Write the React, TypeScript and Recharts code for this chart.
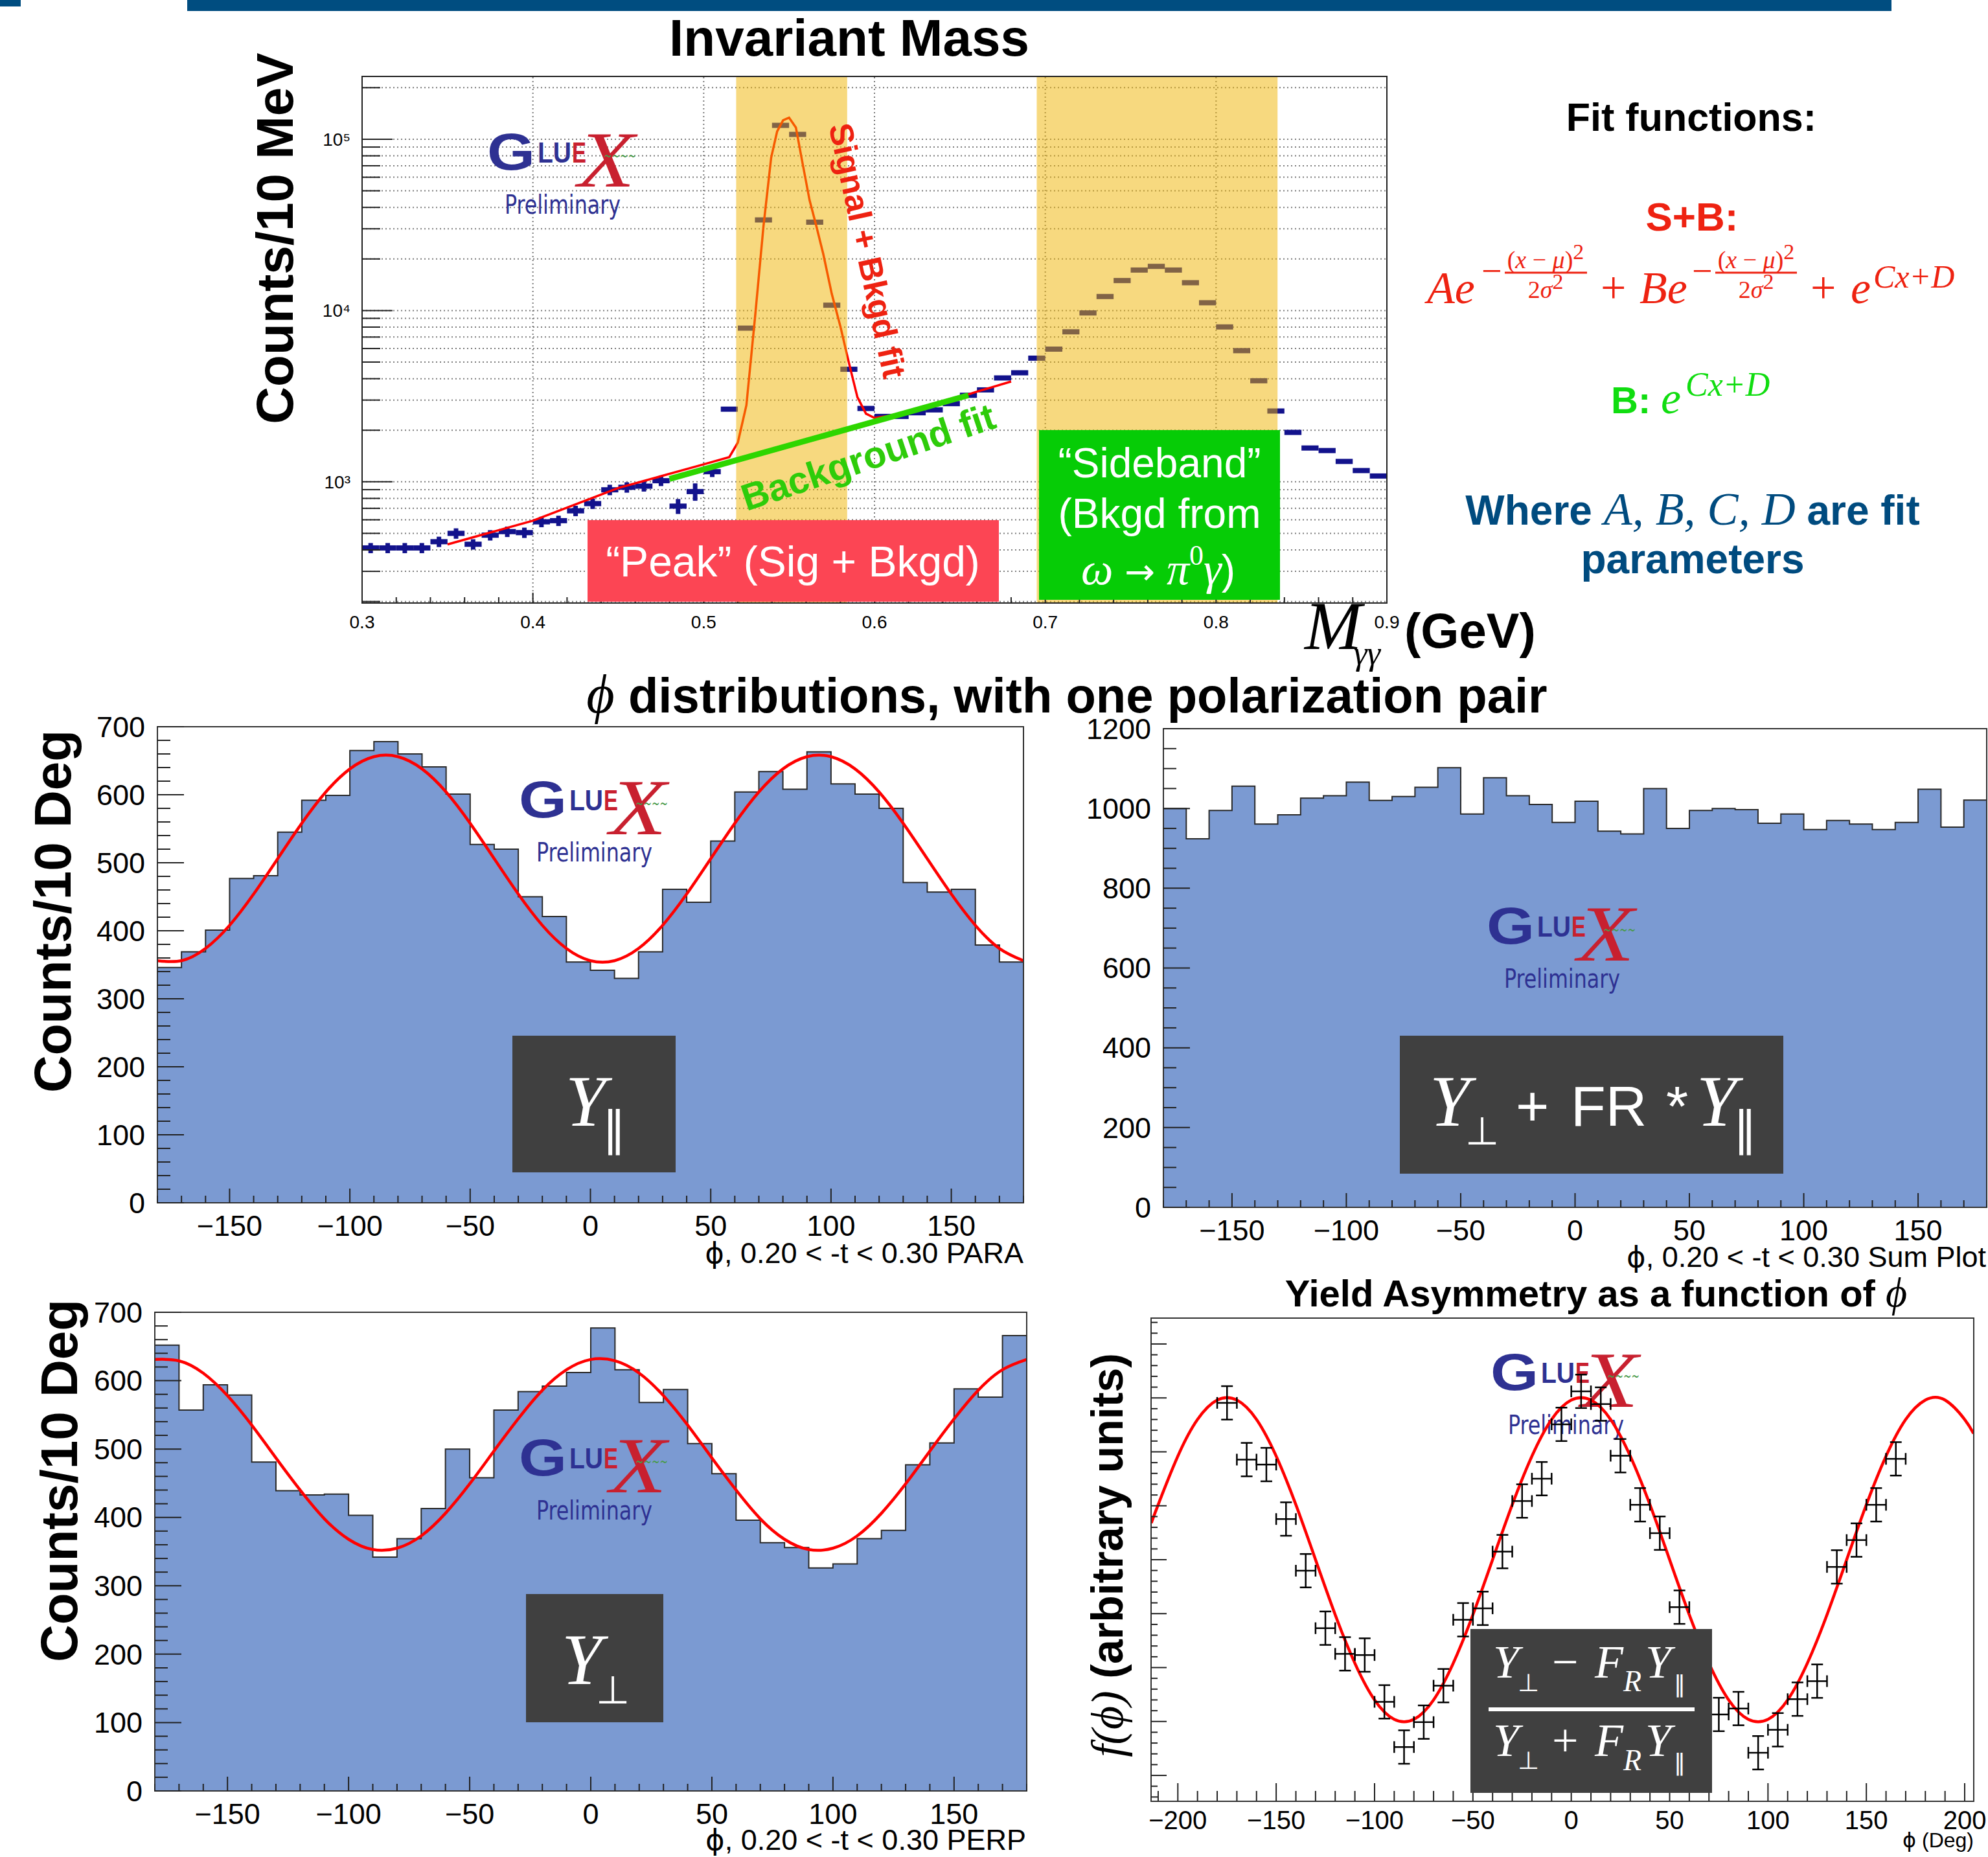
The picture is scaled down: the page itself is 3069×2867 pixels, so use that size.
import React from 'react';
import {
  ComposedChart,
  Area,
  Line,
  Scatter,
  XAxis,
  YAxis,
  ReferenceLine,
  ReferenceArea,
  ErrorBar,
} from 'recharts';

const W = 3069;
const H = 2867;
const SANS = '"Liberation Sans", Arial, Helvetica, sans-serif';
const SERIF = '"Liberation Serif", "DejaVu Serif", "Times New Roman", serif';
const SYM = '"DejaVu Sans", sans-serif';
const NARROW = '"Liberation Sans Narrow", "DejaVu Sans Condensed", "Liberation Sans", sans-serif';
const NAVY = '#12128c';
const RED = '#ee2211';
const HIST_BLUE = '#7b9ad2';

// ---------- invariant mass, counts / 10 MeV ----------
const massBinCenters = [
  0.305, 0.315, 0.325, 0.335, 0.345, 0.355, 0.365, 0.375, 0.385, 0.395,
  0.405, 0.415, 0.425, 0.435, 0.445, 0.455, 0.465, 0.475, 0.485, 0.495,
  0.505, 0.515, 0.525, 0.535, 0.545, 0.555, 0.565, 0.575, 0.585, 0.595,
  0.605, 0.615, 0.625, 0.635, 0.645, 0.655, 0.665, 0.675, 0.685, 0.695,
  0.705, 0.715, 0.725, 0.735, 0.745, 0.755, 0.765, 0.775, 0.785, 0.795,
  0.805, 0.815, 0.825, 0.835, 0.845, 0.855, 0.865, 0.875, 0.885, 0.895,
];
const massCounts = [
  411, 411, 411, 411, 447, 500, 432, 488, 512, 505,
  584, 593, 677, 746, 898, 929, 943, 1015, 721, 877,
  1146, 2655, 7890, 33800, 120500, 106700, 32800, 10740, 4540, 2680,
  2408, 2408, 2530, 2630, 2860, 3200, 3440, 4040, 4330, 5270,
  5950, 7510, 9680, 12070, 14960, 17230, 18100, 17230, 14530, 11100,
  8020, 5830, 3890, 2590, 1943, 1575, 1522, 1315, 1163, 1081,
];
const massErrors = [
  28, 28, 28, 28, 31, 35, 30, 34, 36, 35,
  41, 41, 47, 52, 63, 65, 66, 71, 72, 102,
  80, 0, 0, 0, 0, 0, 0, 0, 0, 0,
  0, 0, 0, 0, 0, 0, 0, 0, 0, 0,
  0, 0, 0, 0, 0, 0, 0, 0, 0, 0,
  0, 0, 0, 0, 0, 0, 0, 0, 0, 0,
];
const massBinHalfWidth = 0.005;
const sbFitMass = [
  0.35, 0.4, 0.45, 0.5, 0.515, 0.52, 0.525, 0.53, 0.535, 0.5395, 0.543, 0.5465,
  0.55, 0.554, 0.5577, 0.562, 0.566, 0.57, 0.575, 0.58, 0.585, 0.59, 0.595, 0.6,
  0.61, 0.62, 0.64, 0.66, 0.68,
];
const sbFitCounts = [
  431, 593, 920, 1264, 1394, 1695, 2800, 9000, 31000, 78000, 111000, 129000,
  133500, 117000, 74000, 44000, 31000, 21400, 12500, 8100, 4960, 3120, 2500, 2360,
  2440, 2560, 2900, 3360, 3850,
];
const bkgFitMass = [0.48, 0.655];
const bkgFitCounts = [1040, 3200];
const peakWindow = [0.519, 0.584];
const sidebandWindow = [0.695, 0.836];
const massDomain = [0.3, 0.9];
const countDomain = [196, 232600];
const massGridX = [0.4, 0.5, 0.6, 0.7, 0.8];
const massLogTicks = [
  200, 300, 400, 500, 600, 700, 800, 900,
  1000, 2000, 3000, 4000, 5000, 6000, 7000, 8000, 9000,
  10000, 20000, 30000, 40000, 50000, 60000, 70000, 80000, 90000,
  100000, 200000,
];

// ---------- phi distributions, counts / 10 deg ----------
const phiBinEdges = [
  -180, -170, -160, -150, -140, -130, -120, -110, -100, -90, -80, -70,
  -60, -50, -40, -30, -20, -10, 0, 10, 20, 30, 40, 50,
  60, 70, 80, 90, 100, 110, 120, 130, 140, 150, 160, 170,
];
const paraCounts = [
  346, 369, 401, 477, 481, 545, 592, 599, 665, 678, 660, 641,
  601, 527, 520, 450, 421, 354, 342, 330, 369, 461, 442, 532,
  604, 634, 608, 663, 616, 601, 580, 471, 457, 461, 379, 354,
];
const sumCounts = [
  1000, 924, 995, 1056, 961, 984, 1026, 1032, 1066, 1020, 1030, 1053,
  1102, 986, 1077, 1032, 1010, 965, 1018, 943, 936, 1050, 950, 995,
  1000, 997, 963, 986, 947, 970, 961, 947, 965, 1048, 953, 1021,
];
const perpCounts = [
  652, 557, 594, 579, 481, 439, 433, 434, 403, 342, 369, 413,
  500, 458, 557, 584, 592, 612, 677, 616, 568, 587, 508, 464,
  396, 363, 356, 326, 332, 369, 381, 477, 509, 588, 576, 666,
];
const fitPhi = [
  -180, -170, -160, -150, -140, -130, -120, -110, -100, -90, -80, -70, -60,
  -50, -40, -30, -20, -10, 0, 10, 20, 30, 40, 50, 60, 70, 80, 90, 100,
  110, 120, 130, 140, 150, 160, 170, 180,
];
const paraFit = [
  356, 356, 374, 408, 454, 506, 558, 604, 638, 656, 656, 638, 604,
  558, 506, 454, 408, 374, 356, 356, 374, 408, 454, 506, 558, 604, 638, 656, 656,
  638, 604, 558, 506, 454, 408, 374, 356,
];
const perpFit = [
  631, 629, 611, 578, 535, 487, 440, 398, 368, 353, 355, 373, 406,
  449, 497, 544, 586, 616, 631, 629, 611, 578, 535, 487, 440, 398, 368, 353, 355,
  373, 406, 449, 497, 544, 586, 616, 631,
];

// ---------- yield asymmetry ----------
const asymPhi = [
  -175, -165, -155, -145, -135, -125, -115, -105, -95, -85, -75, -65,
  -55, -45, -35, -25, -15, -5, 5, 15, 25, 35, 45, 55,
  65, 75, 85, 95, 105, 115, 125, 135, 145, 155, 165,
];
const asymValues = [
  0.1454, 0.0928, 0.0882, 0.0377, -0.0102, -0.0635, -0.0873, -0.0884, -0.1318, -0.1737, -0.1506, -0.1168,
  -0.0557, -0.0451, 0.0075, 0.0544, 0.0751, 0.1255, 0.1561, 0.1443, 0.0964, 0.0509, 0.0246, -0.044,
  -0.1, -0.1435, -0.138, -0.179, -0.1577, -0.1293, -0.1126, -0.0067, 0.0182, 0.0509, 0.0935,
];
const asymErrors = [
  0.0155, 0.0155, 0.0155, 0.0155, 0.0155, 0.0155, 0.0155, 0.0155, 0.0155, 0.0155, 0.0155, 0.0155,
  0.0155, 0.0155, 0.0155, 0.0155, 0.0155, 0.0155, 0.0155, 0.0155, 0.0155, 0.0155, 0.0155, 0.0155,
  0.0155, 0.0155, 0.0155, 0.0155, 0.0155, 0.0155, 0.0155, 0.0155, 0.0155, 0.0155, 0.0155,
];
const asymBinHalfWidth = 5;
const asymFitPhi = [
  -213.5, -210, -200, -190, -180, -170, -160, -150, -140, -130, -120, -110, -100, -90, -80,
  -70, -60, -50, -40, -30, -20, -10, 0, 10, 20, 30, 40, 50, 60, 70, 80, 90, 100, 110,
  120, 130, 140, 150, 160, 170, 180, 190, 200, 204.5,
];
const asymFit = [
  0.034, 0.051, 0.096, 0.13, 0.148, 0.148, 0.13, 0.096, 0.051, 0, -0.051, -0.096, -0.13, -0.148, -0.148,
  -0.13, -0.096, -0.051, 0, 0.051, 0.096, 0.13, 0.148, 0.148, 0.13, 0.096, 0.051, 0, -0.051, -0.096, -0.13, -0.148, -0.148, -0.13,
  -0.096, -0.051, 0, 0.051, 0.096, 0.13, 0.148, 0.148, 0.13, 0.117,
];
const asymDomainX = [-213.6, 204.6];
const asymDomainY = [-0.224, 0.224];

// ---------- helpers ----------
const steps = (a: number, b: number, d: number) => {
  const out: number[] = [];
  const n = Math.round((b - a) / d);
  for (let i = 0; i <= n; i++) out.push(+(a + i * d).toFixed(6));
  return out;
};
const isMultiple = (v: number, step: number) => Math.abs(v / step - Math.round(v / step)) < 1e-6;
const fmtInt = (v: number) => (v < 0 ? '\u2212' + Math.abs(v) : String(v));
const isPow10 = (v: number) => Math.abs(Math.log10(v) - Math.round(Math.log10(v))) < 1e-9;

type Frame = { x: number; y: number; w: number; h: number };
type Pad = { l: number; r: number; t: number; b: number };
const box = (f: Frame, p: Pad) => ({
  left: f.x - p.l,
  top: f.y - p.t,
  width: f.w + p.l + p.r,
  height: f.h + p.t + p.b,
});

type TickStyle = {
  isMajor: (v: number) => boolean;
  majorLen: number;
  minorLen: number;
  fontSize: number;
  gap: number;
  labels: boolean;
  fmt?: (v: number) => React.ReactNode;
};

function BottomTick(props: any) {
  const { x, y, payload, s } = props;
  const v = payload.value;
  const major = s.isMajor(v);
  return (
    <g>
      <line x1={x} x2={x} y1={y} y2={y - (major ? s.majorLen : s.minorLen)} stroke="#222" strokeWidth={2} />
      {major && s.labels && (
        <text x={x} y={y + s.gap} textAnchor="middle" fontSize={s.fontSize} fontFamily={SANS} fill="#000">
          {s.fmt ? s.fmt(v) : fmtInt(v)}
        </text>
      )}
    </g>
  );
}

function LeftTick(props: any) {
  const { x, y, payload, s } = props;
  const v = payload.value;
  const major = s.isMajor(v);
  return (
    <g>
      <line x1={x} x2={x + (major ? s.majorLen : s.minorLen)} y1={y} y2={y} stroke="#222" strokeWidth={2} />
      {major && s.labels && (
        <text x={x - s.gap} y={y + s.fontSize * 0.35} textAnchor="end" fontSize={s.fontSize} fontFamily={SANS} fill="#000">
          {s.fmt ? s.fmt(v) : fmtInt(v)}
        </text>
      )}
    </g>
  );
}

const NoMark = () => <g />;

// ---------- panels ----------
const massFrame = { x: 559, y: 118, w: 1582, h: 813 };
const massPad = { l: 100, r: 40, t: 10, b: 60 };
const massXStyle: TickStyle = {
  isMajor: (v) => isMultiple(v, 0.1), majorLen: 16, minorLen: 9, fontSize: 28, gap: 39, labels: true,
  fmt: (v) => v.toFixed(1),
};
const massYStyle: TickStyle = {
  isMajor: isPow10, majorLen: 47, minorLen: 28, fontSize: 28, gap: 18, labels: true,
  fmt: (v) => '10' + ['⁰', '¹', '²', '³', '⁴', '⁵', '⁶'][Math.round(Math.log10(v))],
};

function MassPanel() {
  const b = box(massFrame, massPad);
  const points = massBinCenters.map((x, i) => ({ x, y: massCounts[i], ex: massBinHalfWidth, ey: massErrors[i] }));
  const sb = sbFitMass.map((x, i) => ({ x, y: sbFitCounts[i] }));
  const bk = bkgFitMass.map((x, i) => ({ x, y: bkgFitCounts[i] }));
  return (
    <div style={{ position: 'absolute', left: b.left, top: b.top, zIndex: 1 }}>
      <ComposedChart width={b.width} height={b.height} margin={{ top: massPad.t, right: massPad.r, bottom: 0, left: 0 }}>
        <XAxis type="number" dataKey="x" domain={massDomain} allowDataOverflow ticks={steps(0.3, 0.9, 0.02)}
          interval={0} tickSize={0} tickMargin={0} tickLine={false} axisLine={false} height={massPad.b}
          tick={(p: any) => <BottomTick {...p} s={massXStyle} />} />
        <YAxis type="number" dataKey="y" scale="log" domain={countDomain} allowDataOverflow ticks={massLogTicks}
          interval={0} tickSize={0} tickMargin={0} tickLine={false} axisLine={false} width={massPad.l}
          tick={(p: any) => <LeftTick {...p} s={massYStyle} />} />
        {massLogTicks.map((v) => (
          <ReferenceLine key={'h' + v} y={v} stroke="#7c7c7c" strokeDasharray="2 4" strokeWidth={2} zIndex={1} />
        ))}
        {massGridX.map((v) => (
          <ReferenceLine key={'v' + v} x={v} stroke="#7c7c7c" strokeDasharray="2 4" strokeWidth={2} zIndex={1} />
        ))}
        <Scatter data={points} shape={<NoMark />} isAnimationActive={false} zIndex={5}>
          <ErrorBar dataKey="ex" direction="x" width={0} stroke={NAVY} strokeWidth={8} isAnimationActive={false} zIndex={5} />
          <ErrorBar dataKey="ey" direction="y" width={0} stroke={NAVY} strokeWidth={7} isAnimationActive={false} zIndex={5} />
        </Scatter>
        <Line data={sb} dataKey="y" type="linear" stroke="#ff0000" strokeWidth={3.5} dot={false} isAnimationActive={false} zIndex={6} />
        <ReferenceArea x1={peakWindow[0]} x2={peakWindow[1]} y1={countDomain[0]} y2={countDomain[1]}
          fill="#f0b400" fillOpacity={0.5} stroke="none" zIndex={7} />
        <ReferenceArea x1={sidebandWindow[0]} x2={sidebandWindow[1]} y1={countDomain[0]} y2={countDomain[1]}
          fill="#f0b400" fillOpacity={0.5} stroke="none" zIndex={7} />
        <Line data={bk} dataKey="y" type="linear" stroke="#2ed600" strokeWidth={9} dot={false} isAnimationActive={false} zIndex={8} />
        <ReferenceArea x1={massDomain[0]} x2={massDomain[1]} y1={countDomain[0]} y2={countDomain[1]}
          fill="none" fillOpacity={0} stroke="#222" strokeWidth={2} zIndex={9} />
      </ComposedChart>
    </div>
  );
}

const phiXStyle: TickStyle = { isMajor: (v) => isMultiple(v, 50), majorLen: 22, minorLen: 11, fontSize: 45, gap: 51, labels: true };

function HistPanel({ frame, pad, counts, fit, yMax, yTickStep, yMajor }: any) {
  const b = box(frame, pad);
  const hist = phiBinEdges.map((x, i) => ({ x, y: counts[i] }));
  hist.push({ x: 180, y: counts[counts.length - 1] });
  const fitData = fit ? fitPhi.map((x, i) => ({ x, y: fit[i] })) : null;
  const yStyle: TickStyle = {
    isMajor: (v) => isMultiple(v, yMajor), majorLen: 41, minorLen: 20, fontSize: 45, gap: 19, labels: true,
  };
  return (
    <div style={{ position: 'absolute', left: b.left, top: b.top, zIndex: 1 }}>
      <ComposedChart width={b.width} height={b.height} data={hist} margin={{ top: pad.t, right: pad.r, bottom: 0, left: 0 }}>
        <XAxis type="number" dataKey="x" domain={[-180, 180]} allowDataOverflow ticks={steps(-180, 180, 10)}
          interval={0} tickSize={0} tickMargin={0} tickLine={false} axisLine={false} height={pad.b}
          tick={(p: any) => <BottomTick {...p} s={phiXStyle} />} />
        <YAxis type="number" dataKey="y" domain={[0, yMax]} allowDataOverflow ticks={steps(0, yMax, yTickStep)}
          interval={0} tickSize={0} tickMargin={0} tickLine={false} axisLine={false} width={pad.l}
          tick={(p: any) => <LeftTick {...p} s={yStyle} />} />
        <Area dataKey="y" type="stepAfter" fill={HIST_BLUE} fillOpacity={1} stroke="#2a2a2a" strokeWidth={2}
          baseValue={0} isAnimationActive={false} zIndex={3} />
        {fitData && (
          <Line data={fitData} dataKey="y" type="natural" stroke="#ff0000" strokeWidth={4.5} dot={false}
            isAnimationActive={false} zIndex={4} />
        )}
        <ReferenceArea x1={-180} x2={180} y1={0} y2={yMax} fill="none" fillOpacity={0} stroke="#333" strokeWidth={2} zIndex={9} />
      </ComposedChart>
    </div>
  );
}

const asymFrame = { x: 1777, y: 2035, w: 1270, h: 746 };
const asymPad = { l: 20, r: 22, t: 10, b: 60 };
const asymXStyle: TickStyle = { isMajor: (v) => isMultiple(v, 50), majorLen: 28, minorLen: 16, fontSize: 40, gap: 43, labels: true };
const asymYStyle: TickStyle = { isMajor: (v) => isMultiple(v, 0.05), majorLen: 24, minorLen: 10, fontSize: 40, gap: 10, labels: false };

function AsymPanel() {
  const b = box(asymFrame, asymPad);
  const pts = asymPhi.map((x, i) => ({ x, y: asymValues[i], ex: asymBinHalfWidth, ey: asymErrors[i] }));
  const fit = asymFitPhi.map((x, i) => ({ x, y: asymFit[i] }));
  return (
    <div style={{ position: 'absolute', left: b.left, top: b.top, zIndex: 1 }}>
      <ComposedChart width={b.width} height={b.height} margin={{ top: asymPad.t, right: asymPad.r, bottom: 0, left: 0 }}>
        <XAxis type="number" dataKey="x" domain={asymDomainX} allowDataOverflow ticks={steps(-210, 200, 10)}
          interval={0} tickSize={0} tickMargin={0} tickLine={false} axisLine={false} height={asymPad.b}
          tick={(p: any) => <BottomTick {...p} s={asymXStyle} />} />
        <YAxis type="number" dataKey="y" domain={asymDomainY} allowDataOverflow ticks={steps(-0.22, 0.22, 0.01)}
          interval={0} tickSize={0} tickMargin={0} tickLine={false} axisLine={false} width={asymPad.l}
          tick={(p: any) => <LeftTick {...p} s={asymYStyle} />} />
        <Line data={fit} dataKey="y" type="natural" stroke="#ff0000" strokeWidth={4.5} dot={false} isAnimationActive={false} zIndex={4} />
        <Scatter data={pts} shape={<NoMark />} isAnimationActive={false} zIndex={5}>
          <ErrorBar dataKey="ex" direction="x" width={9} stroke="#000" strokeWidth={2.5} isAnimationActive={false} zIndex={5} />
          <ErrorBar dataKey="ey" direction="y" width={9} stroke="#000" strokeWidth={2.5} isAnimationActive={false} zIndex={5} />
        </Scatter>
        <ReferenceArea x1={asymDomainX[0]} x2={asymDomainX[1]} y1={asymDomainY[0]} y2={asymDomainY[1]}
          fill="none" fillOpacity={0} stroke="#333" strokeWidth={2} zIndex={9} />
      </ComposedChart>
    </div>
  );
}

// ---------- decorations ----------
function GlueXLogo({ x, y }: { x: number; y: number }) {
  const navy = '#2e3192';
  const red = '#c8202f';
  return (
    <g>
      <text x={x} y={y + 61} fontFamily={SANS} fontWeight="bold" fontSize={80} fill={navy} textLength={74} lengthAdjust="spacingAndGlyphs">G</text>
      <text x={x + 78} y={y + 50} fontFamily={SANS} fontWeight="bold" fontSize={44} fill={navy} textLength={52} lengthAdjust="spacingAndGlyphs">LU</text>
      <text x={x + 131} y={y + 50} fontFamily={SANS} fontWeight="bold" fontSize={44} fill={red} textLength={22} lengthAdjust="spacingAndGlyphs">E</text>
      <text x={x + 140} y={y + 87} fontFamily={SERIF} fontStyle="italic" fontSize={122} fill={red} textLength={88} lengthAdjust="spacingAndGlyphs">X</text>
      <text x={x + 180} y={y + 48} fontFamily={SYM} fontSize={24} fill="#4a9a4a" textLength={50} lengthAdjust="spacingAndGlyphs">~~~~</text>
      <text x={x + 27} y={y + 129} fontFamily={NARROW} fontSize={40} fill={navy} textLength={179} lengthAdjust="spacingAndGlyphs">Preliminary</text>
    </g>
  );
}

function DarkBox({ x, y, w, h, children }: any) {
  return (
    <g>
      <rect x={x} y={y} width={w} height={h} fill="#404040" />
      {children}
    </g>
  );
}

const it = { fontFamily: SERIF, fontStyle: 'italic' as const };

function Overlay() {
  return (
    <svg width={W} height={H} style={{ position: 'absolute', left: 0, top: 0, zIndex: 2, pointerEvents: 'none' }}>
      <rect x={0} y={0} width={32} height={10} fill="#004d80" />
      <rect x={289} y={0} width={2631} height={17} fill="#004d80" />

      {/* invariant mass */}
      <text x={1311} y={86} textAnchor="middle" fontFamily={SANS} fontWeight="bold" fontSize={80}>Invariant Mass</text>
      <text transform="translate(452,368) rotate(-90)" textAnchor="middle" fontFamily={SANS} fontWeight="bold" fontSize={80}>Counts/10 MeV</text>
      <text x={2014} y={1002} {...it} fontSize={106}>M</text>
      <text x={2090} y={1026} {...it} fontSize={52}>γγ</text>
      <text x={2168} y={1000} fontFamily={SANS} fontWeight="bold" fontSize={76}>(GeV)</text>
      <GlueXLogo x={752} y={201} />
      <text transform="translate(1339,387) rotate(77.7)" textAnchor="middle" dominantBaseline="central"
        fontFamily={SANS} fontWeight="bold" fontSize={51} fill={RED}>Signal + Bkgd fit</text>
      <text transform="translate(1340,705) rotate(-18.5)" textAnchor="middle" dominantBaseline="central"
        fontFamily={SANS} fontWeight="bold" fontSize={58} fill="#2ecc0a">Background fit</text>
      <rect x={907} y={803} width={635} height={126} fill="#fc4554" />
      <text x={1224} y={890} textAnchor="middle" fontFamily={SANS} fontSize={66} fill="#fff">“Peak” (Sig + Bkgd)</text>
      <rect x={1604} y={664} width={372} height={262} fill="#06cc06" />
      <g fill="#fff" fontFamily={SANS} fontSize={64} textAnchor="middle">
        <text x={1790} y={737}>“Sideband”</text>
        <text x={1790} y={815}>(Bkgd from</text>
        <text x={1788} y={902}>
          <tspan {...it} fontSize={70}>ω</tspan>
          <tspan fontFamily={SYM} fontSize={56}> → </tspan>
          <tspan {...it} fontSize={70}>π</tspan>
          <tspan fontFamily={SERIF} fontSize={44} dy={-30}>0</tspan>
          <tspan {...it} fontSize={70} dy={30}>γ</tspan>
          <tspan fontSize={64}>)</tspan>
        </text>
      </g>

      {/* fit functions */}
      <text x={2611} y={202} textAnchor="middle" fontFamily={SANS} fontWeight="bold" fontSize={61}>Fit functions:</text>
      <text x={2612} y={356} textAnchor="middle" fontFamily={SANS} fontWeight="bold" fontSize={62} fill={RED}>S+B:</text>
      <g fill={RED} fontFamily={SERIF}>
        <text x={2203} y={468} {...it} fontSize={70}>Ae</text>
        <text x={2287} y={437} fontSize={56}>−</text>
        <text x={2386} y={414} textAnchor="middle" fontSize={38}>
          (<tspan fontStyle="italic">x</tspan> − <tspan fontStyle="italic">μ</tspan>)<tspan dy={-14} fontSize={34}>2</tspan>
        </text>
        <line x1={2323} x2={2450} y1={421} y2={421} stroke={RED} strokeWidth={3} />
        <text x={2386} y={460} textAnchor="middle" fontSize={38}>
          2<tspan fontStyle="italic">σ</tspan><tspan dy={-14} fontSize={34}>2</tspan>
        </text>
        <text x={2471} y={468} fontSize={70}>+</text>
        <text x={2531} y={468} {...it} fontSize={70}>Be</text>
        <text x={2612} y={437} fontSize={56}>−</text>
        <text x={2711} y={414} textAnchor="middle" fontSize={38}>
          (<tspan fontStyle="italic">x</tspan> − <tspan fontStyle="italic">μ</tspan>)<tspan dy={-14} fontSize={34}>2</tspan>
        </text>
        <line x1={2648} x2={2774} y1={421} y2={421} stroke={RED} strokeWidth={3} />
        <text x={2711} y={460} textAnchor="middle" fontSize={38}>
          2<tspan fontStyle="italic">σ</tspan><tspan dy={-14} fontSize={34}>2</tspan>
        </text>
        <text x={2795} y={468} fontSize={70}>+</text>
        <text x={2857} y={468} {...it} fontSize={70}>e</text>
        <text x={2892} y={444} {...it} fontSize={50}>Cx+D</text>
      </g>
      <g fill="#10dd10">
        <text x={2487} y={638} fontFamily={SANS} fontWeight="bold" fontSize={58}>B:</text>
        <text x={2564} y={638} {...it} fontSize={70}>e</text>
        <text x={2602} y={611} {...it} fontSize={52}>Cx+D</text>
      </g>
      <g fill="#004b7f">
        <text x={2613} y={810} textAnchor="middle" fontFamily={SANS} fontWeight="bold" fontSize={64}>
          Where <tspan {...it} fontWeight="normal" fontSize={72}>A, B, C, D</tspan> are fit
        </text>
        <text x={2613} y={885} textAnchor="middle" fontFamily={SANS} fontWeight="bold" fontSize={64}>parameters</text>
      </g>

      {/* phi distributions */}
      <text x={1647} y={1100} textAnchor="middle" fontFamily={SANS} fontWeight="bold" fontSize={76}>
        <tspan {...it} fontWeight="normal" fontSize={84}>ϕ</tspan> distributions, with one polarization pair
      </text>
      <text transform="translate(109,1407) rotate(-90)" textAnchor="middle" fontFamily={SANS} fontWeight="bold" fontSize={80}>Counts/10 Deg</text>
      <text transform="translate(119,2286) rotate(-90)" textAnchor="middle" fontFamily={SANS} fontWeight="bold" fontSize={80}>Counts/10 Deg</text>
      <g fontFamily={SANS} fontSize={45}>
        <text x={1580} y={1950} textAnchor="end">
          <tspan fontFamily={SYM}>ϕ</tspan>, 0.20 {'<'} -t {'<'} 0.30 PARA
        </text>
        <text x={3066} y={1956} textAnchor="end">
          <tspan fontFamily={SYM}>ϕ</tspan>, 0.20 {'<'} -t {'<'} 0.30 Sum Plot
        </text>
        <text x={1584} y={2856} textAnchor="end">
          <tspan fontFamily={SYM}>ϕ</tspan>, 0.20 {'<'} -t {'<'} 0.30 PERP
        </text>
      </g>
      <GlueXLogo x={801} y={1201} />
      <GlueXLogo x={2295} y={1396} />
      <GlueXLogo x={801} y={2217} />

      <DarkBox x={791} y={1599} w={252} h={211}>
        <text x={873} y={1738} {...it} fontSize={112} fill="#fff">Y</text>
        <text x={930} y={1766} fontFamily={SYM} fontSize={72} fill="#fff">‖</text>
      </DarkBox>
      <DarkBox x={2161} y={1599} w={592} h={213}>
        <text x={2207} y={1738} {...it} fontSize={112} fill="#fff">Y</text>
        <text x={2262} y={1767} fontFamily={SYM} fontSize={60} fill="#fff">⊥</text>
        <text x={2340} y={1738} fontFamily={SANS} fontSize={88} fill="#fff">+</text>
        <text x={2425} y={1738} fontFamily={SANS} fontSize={88} fill="#fff">FR</text>
        <text x={2572} y={1738} fontFamily={SANS} fontSize={88} fill="#fff">*</text>
        <text x={2619} y={1738} {...it} fontSize={112} fill="#fff">Y</text>
        <text x={2676} y={1766} fontFamily={SYM} fontSize={72} fill="#fff">‖</text>
      </DarkBox>
      <DarkBox x={812} y={2461} w={212} h={198}>
        <text x={867} y={2600} {...it} fontSize={112} fill="#fff">Y</text>
        <text x={920} y={2630} fontFamily={SYM} fontSize={60} fill="#fff">⊥</text>
      </DarkBox>

      {/* asymmetry */}
      <text x={2464} y={2017} textAnchor="middle" fontFamily={SANS} fontWeight="bold" fontSize={58}>
        Yield Asymmetry as a function of <tspan {...it} fontWeight="normal" fontSize={64}>ϕ</tspan>
      </text>
      <text transform="translate(1733,2401) rotate(-90)" textAnchor="middle" fontFamily={SANS} fontWeight="bold" fontSize={68}>
        <tspan {...it} fontWeight="normal" fontSize={70}>f(ϕ)</tspan> (arbitrary units)
      </text>
      <text x={3047} y={2852} textAnchor="end" fontFamily={SANS} fontSize={32}>
        <tspan fontFamily={SYM}>ϕ</tspan> (Deg)
      </text>
      <DarkBox x={2270} y={2515} w={373} h={253}>
        <g fill="#fff">
          <text x={2305} y={2590} {...it} fontSize={72}>Y</text>
          <text x={2343} y={2611} fontFamily={SYM} fontSize={38}>⊥</text>
          <text x={2396} y={2590} fontFamily={SERIF} fontSize={72}>−</text>
          <text x={2462} y={2590} {...it} fontSize={72}>F</text>
          <text x={2506} y={2611} {...it} fontSize={46}>R</text>
          <text x={2540} y={2590} {...it} fontSize={72}>Y</text>
          <text x={2584} y={2612} fontFamily={SYM} fontSize={36}>‖</text>
          <line x1={2298} x2={2616} y1={2639} y2={2639} stroke="#fff" strokeWidth={6} />
          <text x={2305} y={2711} {...it} fontSize={72}>Y</text>
          <text x={2343} y={2731} fontFamily={SYM} fontSize={38}>⊥</text>
          <text x={2396} y={2711} fontFamily={SERIF} fontSize={72}>+</text>
          <text x={2462} y={2711} {...it} fontSize={72}>F</text>
          <text x={2506} y={2733} {...it} fontSize={46}>R</text>
          <text x={2540} y={2711} {...it} fontSize={72}>Y</text>
          <text x={2584} y={2733} fontFamily={SYM} fontSize={36}>‖</text>
        </g>
      </DarkBox>
    </svg>
  );
}

export default function App() {
  return (
    <div style={{ position: 'absolute', left: 0, top: 0, width: W, height: H, background: '#fff', overflow: 'hidden', fontFamily: SANS }}>
      <svg width={W} height={H} style={{ position: 'absolute', left: 0, top: 0, zIndex: 0 }}>
        <GlueXLogo x={2301} y={2085} />
      </svg>
      <MassPanel />
      <HistPanel frame={{ x: 243, y: 1122, w: 1337, h: 735 }} pad={{ l: 110, r: 30, t: 25, b: 70 }}
        counts={paraCounts} fit={paraFit} yMax={700} yTickStep={20} yMajor={100} />
      <HistPanel frame={{ x: 1796, y: 1125, w: 1271, h: 739 }} pad={{ l: 130, r: 2, t: 25, b: 70 }}
        counts={sumCounts} fit={null} yMax={1200} yTickStep={50} yMajor={200} />
      <HistPanel frame={{ x: 239, y: 2026, w: 1346, h: 739 }} pad={{ l: 110, r: 30, t: 25, b: 70 }}
        counts={perpCounts} fit={perpFit} yMax={700} yTickStep={20} yMajor={100} />
      <AsymPanel />
      <Overlay />
    </div>
  );
}
